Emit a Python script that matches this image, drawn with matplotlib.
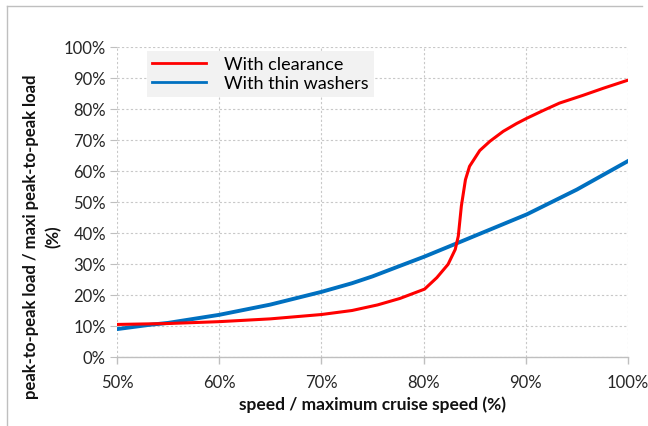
import numpy as np
import matplotlib.pyplot as plt
from matplotlib.lines import Line2D

# values (x in % of max cruise speed, y in %)
speed_clear = [50, 55, 60, 65, 70, 73, 75.5, 77.7, 80.1, 81.3, 82.4, 83.1, 83.4,
               83.7, 84.1, 84.5, 85.5, 86.5, 87.8, 89.1, 90.1, 91.7, 93.3, 95.6,
               97.6, 100]
load_clear = [10.5, 10.8, 11.4, 12.3, 13.7, 15.0, 16.8, 18.9, 21.9, 25.6, 29.9,
              34.7, 39.0, 48.7, 57.2, 61.5, 66.6, 69.6, 72.8, 75.3, 77.0, 79.5,
              81.9, 84.4, 86.7, 89.3]

speed_wash = [50, 53, 55, 60, 65, 70, 73, 75, 77.7, 80.1, 83.2, 90.1, 95, 100]
load_wash = [9.0, 10.3, 11.0, 13.6, 16.9, 21.0, 23.8, 26.0, 29.4, 32.4, 36.6, 46.0,
             54.0, 63.2]

x_ticks = [50, 60, 70, 80, 90, 100]
y_ticks = list(range(0, 101, 10))

plt.rcParams['font.family'] = ['Lato', 'DejaVu Sans']

fig = plt.figure(figsize=(6.48, 4.27), dpi=100)
ax = fig.add_axes([0.1806, 0.1616, 0.7884, 0.726])

ax.plot(speed_wash, load_wash, color='#0070c0', lw=2.8, label='With thin washers',
        zorder=3, solid_joinstyle='round')
ax.plot(speed_clear, load_clear, color='#ff0000', lw=2.2, label='With clearance',
        zorder=4, solid_joinstyle='round')

ax.set_xlim(50, 100)
ax.set_ylim(0, 100)
ax.set_xticks(x_ticks)
ax.set_yticks(y_ticks)
ax.set_xticklabels([f'{v}%' for v in x_ticks])
ax.set_yticklabels([f'{v}%' for v in y_ticks])
ax.grid(True, color='#c8c8c8', ls=(0, (2, 2)), lw=0.8)
ax.set_axisbelow(True)

for s in ['top', 'right', 'left']:
    ax.spines[s].set_visible(False)
ax.spines['bottom'].set_color('#bfbfbf')
ax.spines['bottom'].set_linewidth(1.0)
ax.tick_params(axis='x', colors='#bfbfbf', length=5, width=1.0, labelcolor='#262626',
               labelsize=12, pad=7)
ax.tick_params(axis='y', colors='#bfbfbf', length=5, width=0.8, labelcolor='#262626',
               labelsize=12, pad=3)

ax.set_xlabel('speed / maximum cruise speed (%)', fontsize=12.5, fontweight='bold',
              color='#111111', labelpad=4)
ax.set_ylabel('peak-to-peak load / maxi peak-to-peak load\n(%)', fontsize=12,
              fontweight='bold', color='#111111', linespacing=1.5)
ax.yaxis.set_label_coords(-0.108, 0.39)

h, l = ax.get_legend_handles_labels()
leg = ax.legend(h[::-1], l[::-1], loc='upper left', bbox_to_anchor=(0.058, 0.987),
                fontsize=13, frameon=True, fancybox=False, handlelength=3.0,
                borderpad=0.3, labelspacing=0.15, handletextpad=1.0,
                borderaxespad=0)
leg.get_frame().set_facecolor('#f2f2f2')
leg.get_frame().set_edgecolor('none')
leg.get_frame().set_alpha(1)
for line in leg.get_lines():
    line.set_linewidth(2)

# outer chart border (top and left only, as cropped)
fig.add_artist(Line2D([0.011, 0.99], [0.984, 0.984], color='#bfbfbf', lw=1.0))
fig.add_artist(Line2D([0.011, 0.011], [0.0, 0.984], color='#bfbfbf', lw=1.0))

fig.savefig('out.png', dpi=100)
